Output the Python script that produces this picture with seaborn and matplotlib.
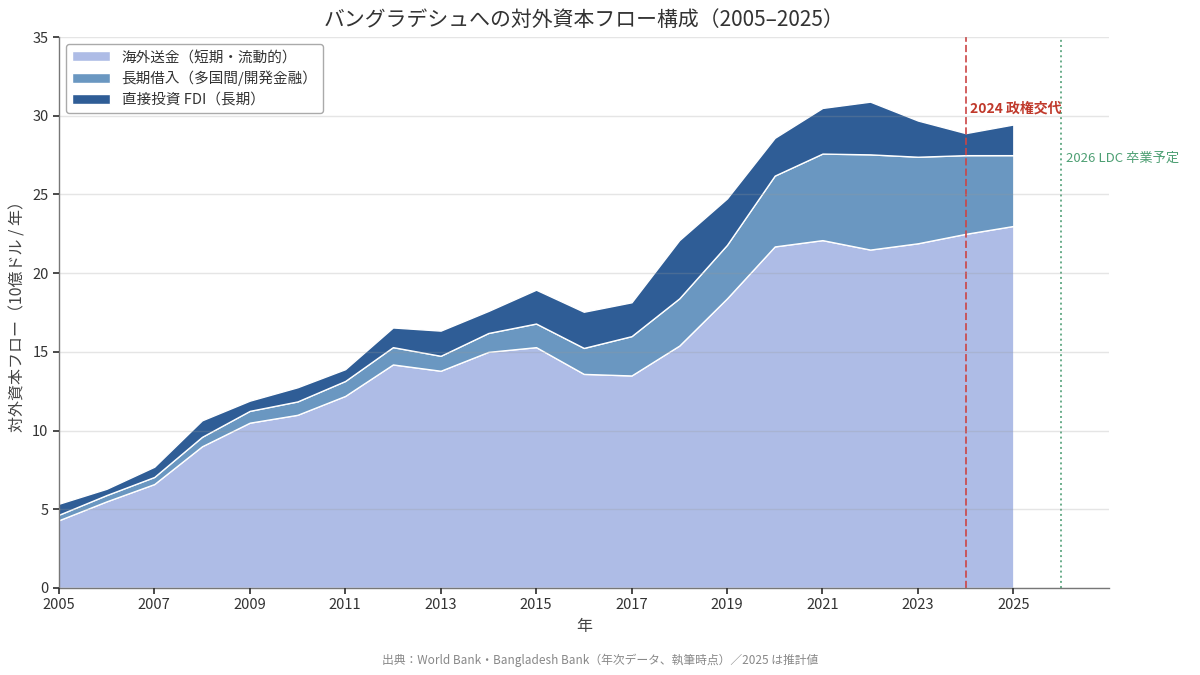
import numpy as np
import pandas as pd
import matplotlib
matplotlib.use("Agg")
import matplotlib.pyplot as plt
import seaborn as sns

years = list(range(2005, 2026))
remittance = [4.3, 5.5, 6.6, 9.0, 10.5, 11.0, 12.2, 14.2, 13.8, 15.0, 15.3,
              13.6, 13.5, 15.4, 18.4, 21.7, 22.1, 21.5, 21.9, 22.5, 23.0]
loans = [0.35, 0.4, 0.45, 0.6, 0.75, 0.85, 0.95, 1.1, 0.95, 1.2, 1.5,
         1.65, 2.5, 3.0, 3.4, 4.5, 5.5, 6.05, 5.5, 5.0, 4.5]
fdi = [0.7, 0.4, 0.65, 1.05, 0.65, 0.9, 0.75, 1.25, 1.6, 1.4, 2.15,
       2.3, 2.15, 3.7, 2.95, 2.4, 2.9, 3.35, 2.3, 1.4, 1.95]
labels = ["海外送金（短期・流動的）", "長期借入（多国間/開発金融）", "直接投資 FDI（長期）"]
colors = ["#aebce6", "#6a97c1", "#2f5d96"]

df = pd.DataFrame({"year": years, "remit": remittance, "loans": loans, "fdi": fdi})

sns.set_theme(style="white")
plt.rcParams["font.family"] = ["Noto Sans CJK JP", "DejaVu Sans"]

fig, ax = plt.subplots(figsize=(12, 6.75), dpi=100)
fig.subplots_adjust(left=0.049, right=0.924, top=0.945, bottom=0.129)

ax.stackplot(df["year"], df["remit"], df["loans"], df["fdi"],
             labels=labels, colors=colors, edgecolor="white", linewidth=1.0)

ax.set_xlim(2005, 2027)
ax.set_ylim(0, 35)
ax.set_xticks(range(2005, 2026, 2))
ax.set_yticks(range(0, 36, 5))
ax.tick_params(axis="both", labelsize=10.5, colors="#333333", length=4,
               bottom=True, left=True)
ax.yaxis.grid(True, color="#999999", alpha=0.25, linewidth=1)
ax.set_axisbelow(False)

sns.despine(ax=ax)
for s in ["left", "bottom"]:
    ax.spines[s].set_color("#777777")
    ax.spines[s].set_linewidth(1)

ax.axvline(2024, color="#cc4444", linestyle="--", linewidth=1.4, alpha=0.85)
ax.axvline(2026, color="#5aa57e", linestyle=":", linewidth=1.4, alpha=0.9)
ax.text(2024.1, 30.0, "2024 政権交代", color="#c0392b", fontsize=10,
        fontweight="bold", va="bottom", ha="left")
ax.text(2026.1, 27.3, "2026 LDC 卒業予定", color="#4d9f73", fontsize=9.5,
        va="center", ha="left")

ax.set_title("バングラデシュへの対外資本フロー構成（2005–2025）",
             fontsize=15, color="#333333", pad=8)
ax.set_xlabel("年", fontsize=11.5, color="#444444")
ax.set_ylabel("対外資本フロー（10億ドル / 年）", fontsize=11.5, color="#444444")

leg = ax.legend(loc="upper left", fontsize=10.5, frameon=True, fancybox=True,
                edgecolor="#aaaaaa", framealpha=1.0, handlelength=2.6,
                labelspacing=0.45)
for t in leg.get_texts():
    t.set_color("#333333")

fig.text(0.5, 0.012, "出典：World Bank・Bangladesh Bank（年次データ、執筆時点）／2025 は推計値",
         ha="center", va="bottom", fontsize=8.5, color="#888888")

fig.savefig("out.png", dpi=100)
